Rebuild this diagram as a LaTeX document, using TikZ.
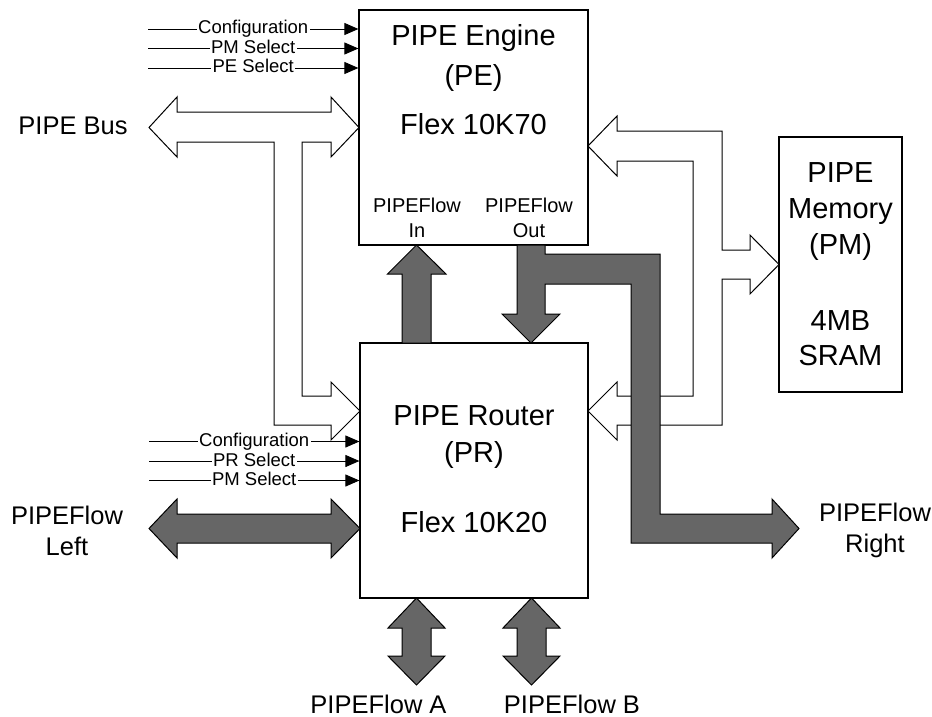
\documentclass[tikz,border=0pt]{standalone}
\usepackage{fontspec}
\setmainfont{Liberation Sans}
\usetikzlibrary{arrows.meta}
\definecolor{flowgray}{RGB}{102,102,102}
\tikzset{
  blk/.style={draw, line width=1.2pt, fill=white, inner sep=0pt},
  big/.style={font=\fontsize{29}{34}\selectfont, anchor=base, inner sep=0pt},
  lbl/.style={font=\fontsize{25.5}{30}\selectfont, anchor=base, inner sep=0pt},
  port/.style={font=\fontsize{20}{24}\selectfont, anchor=base, inner sep=0pt},
  sigtxt/.style={font=\fontsize{18.5}{20}\selectfont, fill=white, inner sep=1.5pt, anchor=base, yshift=-5pt},
  sig/.style={line width=0.9pt, -{Triangle[length=14pt,width=12pt]}},
  bus/.style={draw, fill=white, line width=1pt},
  flow/.style={draw, fill=flowgray, line width=1pt},
}
\begin{document}
\begin{tikzpicture}[x=1pt, y=-1pt]
  \useasboundingbox (0,0) rectangle (932,717);
  \node [blk, minimum width=229pt, minimum height=235pt] (pe) at (473.5,127.5) {};
  \node [blk, minimum width=228pt, minimum height=255pt] (pr) at (474,470.5) {};
  \node [blk, minimum width=123pt, minimum height=255pt] (pm) at (840.5,264.5) {};

  \path [bus] (149,127.5) -- (177,97) -- (177,112) -- (331,112) -- (331,97) -- (359,127.5)
    -- (331,157) -- (331,142) -- (302,142) -- (302,396) -- (331,396) -- (331,382)
    -- (360,411) -- (331,440) -- (331,425) -- (274,425) -- (274,142) -- (177,142)
    -- (177,157) -- cycle;
  \path [bus] (617,131) -- (722,131) -- (722,250) -- (750,250) -- (750,235) -- (779,264.5)
    -- (750,294) -- (750,279) -- (722,279) -- (722,425) -- (617,425) -- (617,440)
    -- (588,411) -- (617,382) -- (617,396) -- (693,396) -- (693,161) -- (617,161)
    -- (617,176) -- (588,146) -- (617,116) -- cycle;

  \path [flow] (402,343) -- (402,274) -- (387.5,274) -- (416.5,245) -- (446,274) -- (431,274)
    -- (431,343) -- cycle;
  \path [flow] (517,245) -- (517,314) -- (502,314) -- (531,343) -- (560,314) -- (545,314)
    -- (545,284) -- (631,284) -- (631,543) -- (772,543) -- (772,558) -- (799,528.5)
    -- (772,499) -- (772,514) -- (660,514) -- (660,254) -- (545,254) -- (545,245) -- cycle;
  \path [flow] (149,528.5) -- (177,499) -- (177,514) -- (331,514) -- (331,499) -- (360,528.5)
    -- (331,558) -- (331,543) -- (177,543) -- (177,558) -- cycle;
  \path [flow] (416.5,598) -- (445,628) -- (431,628) -- (431,656) -- (445,656) -- (416.5,685)
    -- (388,656) -- (402,656) -- (402,628) -- (388,628) -- cycle;
  \path [flow] (531.5,598) -- (560,628) -- (546,628) -- (546,656) -- (560,656) -- (531.5,685)
    -- (503,656) -- (517,656) -- (517,628) -- (503,628) -- cycle;

  \coordinate (peCfg) at (148,29);
  \coordinate (pePm) at (148,48.5);
  \coordinate (pePe) at (148,68);
  \draw [sig] (peCfg) -- node [sigtxt] {Configuration} (peCfg -| pe.west);
  \draw [sig] (pePm) -- node [sigtxt] {PM Select} (pePm -| pe.west);
  \draw [sig] (pePe) -- node [sigtxt] {PE Select} (pePe -| pe.west);
  \coordinate (prCfg) at (149,441.5);
  \coordinate (prPr) at (149,461);
  \coordinate (prPm) at (149,480.5);
  \draw [sig] (prCfg) -- node [sigtxt] {Configuration} (prCfg -| pr.west);
  \draw [sig] (prPr) -- node [sigtxt] {PR Select} (prPr -| pr.west);
  \draw [sig] (prPm) -- node [sigtxt] {PM Select} (prPm -| pr.west);

  \node [big] (peName) at (473.5,46) {PIPE Engine};
  \node [big] (peId) at (473.5,85.5) {(PE)};
  \node [big] (peChip) at (473.5,134) {Flex 10K70};
  \node [port] (inTop) at (417,212) {PIPEFlow};
  \node [port] (inBot) at (417,237) {In};
  \node [port] (outTop) at (529,212) {PIPEFlow};
  \node [port] (outBot) at (529,237) {Out};

  \node [big] (prName) at (474,425) {PIPE Router};
  \node [big] (prId) at (474,462) {(PR)};
  \node [big] (prChip) at (474,532) {Flex 10K20};

  \node [big] (pmA) at (840.5,182) {PIPE};
  \node [big] (pmB) at (840.5,218) {Memory};
  \node [big] (pmC) at (840.5,254) {(PM)};
  \node [big] (pmD) at (840.5,330) {4MB};
  \node [big] (pmE) at (840.5,365) {SRAM};

  \node [lbl] (busLbl) at (73,134) {PIPE Bus};
  \node [lbl] (leftTop) at (67,524) {PIPEFlow};
  \node [lbl] (leftBot) at (67,555) {Left};
  \node [lbl] (rightTop) at (875,521) {PIPEFlow};
  \node [lbl] (rightBot) at (875,552) {Right};
  \node [lbl] (aLbl) at (378.5,713) {PIPEFlow A};
  \node [lbl] (bLbl) at (572,713) {PIPEFlow B};
\end{tikzpicture}
\end{document}
